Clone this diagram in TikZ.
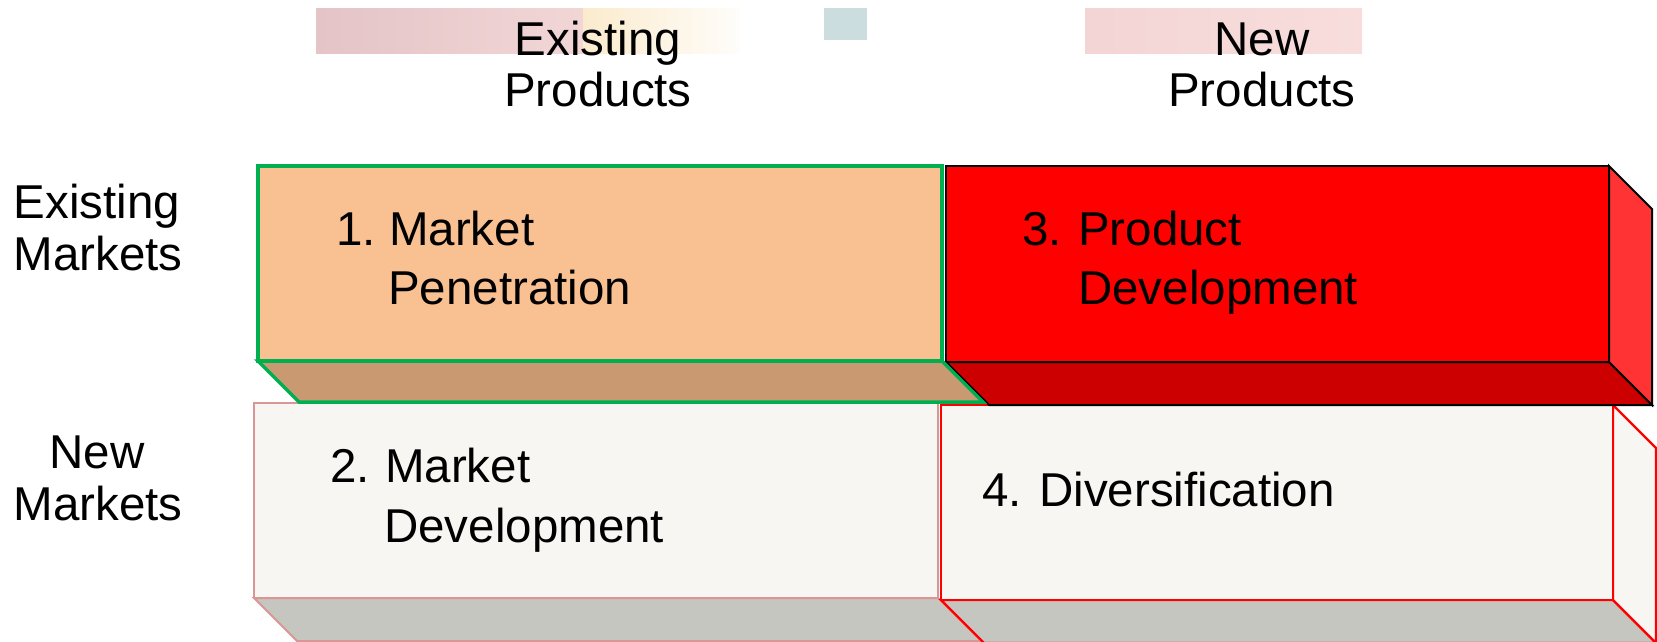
\documentclass[tikz,border=0pt]{standalone}
\usepackage{fontspec}
\setmainfont{Liberation Sans}
\definecolor{peach}{HTML}{F9C091}
\definecolor{peachdark}{HTML}{C99A72}
\definecolor{offwhite}{HTML}{F7F6F2}
\definecolor{greyface}{HTML}{C6C6C1}
\definecolor{redfront}{HTML}{FF0000}
\definecolor{redbottom}{HTML}{CC0000}
\definecolor{redside}{HTML}{FF3333}
\definecolor{greenline}{HTML}{00B050}
\definecolor{pinkline}{HTML}{DA9694}
\definecolor{patchpink}{HTML}{E4C4C7}
\definecolor{patchpinkB}{HTML}{F2D6D6}
\definecolor{patchyellow}{HTML}{FBEBCD}
\definecolor{patchteal}{HTML}{CBDDDE}
\definecolor{patchrose}{HTML}{F0CACA}
\begin{document}
\begin{tikzpicture}[x=1pt,y=-1pt,line join=miter,
  lbl/.style={font=\fontsize{47.5}{57}\selectfont,inner sep=0pt,anchor=base west},
  hdr/.style={font=\fontsize{47.5}{57}\selectfont,inner sep=0pt,anchor=base},
  boxone/.style={draw=greenline,line width=3.5pt},
  boxtwo/.style={draw=pinkline,line width=2pt},
  boxthree/.style={draw=black,line width=2pt},
  boxfour/.style={draw=redfront,line width=2.2pt}]
\useasboundingbox (0,0) rectangle (1657,641);
\clip (0,0) rectangle (1657,641);
% blurred patches at the top
\shade[left color=patchpink,right color=patchpinkB] (316,8) rectangle (583,53);
\shade[left color=patchyellow,right color=white!90!patchyellow] (583,8) rectangle (740,53);
\fill[patchteal] (824,8) rectangle (867,40);
\shade[left color=patchrose!80!white,right color=patchrose!70!pink!60!white] (1085,8) rectangle (1362,53);
% lower row: box 2
\path[boxtwo,fill=greyface] (254,598) -- (938,598) -- (981,641) -- (297,641) -- cycle;
\path[boxtwo,fill=offwhite] (254,403) rectangle (938,598);
% lower row: box 4
\path[boxfour,fill=greyface] (941,600) -- (1613,600) -- (1656,643) -- (984,643) -- cycle;
\path[boxfour,fill=offwhite] (1613,405) -- (1656,448) -- (1656,643) -- (1613,600) -- cycle;
\path[boxfour,fill=offwhite] (941,405) rectangle (1613,600);
% upper row: box 3
\path[boxthree,fill=redbottom] (946,362) -- (1609,362) -- (1652,405) -- (989,405) -- cycle;
\path[boxthree,fill=redside] (1609,166) -- (1652,209) -- (1652,405) -- (1609,362) -- cycle;
\path[boxthree,fill=redfront] (946,166) rectangle (1609,362);
% upper row: box 1
\path[boxone,fill=peachdark] (258,361) -- (942,361) -- (983,402) -- (299,402) -- cycle;
\path[boxone,fill=peach] (258,166) rectangle (942,361);
% column headers
\node[hdr] (ep1) at (598,55) {Existing};
\node[hdr] (ep2) at (598,106) {Products};
\node[hdr] (np1) at (1262,55) {New};
\node[hdr] (np2) at (1262,106) {Products};
% row headers
\node[hdr] (em1) at (97,218) {Existing};
\node[hdr] (em2) at (98,270) {Markets};
\node[hdr] (nm1) at (97,468) {New};
\node[hdr] (nm2) at (98,520) {Markets};
% box texts
\node[lbl] (b1n) at (336,245) {1.};
\node[lbl] (b1a) at (389,245) {Market};
\node[lbl] (b1b) at (388,304) {Penetration};
\node[lbl] (b3n) at (1022,245) {3.};
\node[lbl] (b3a) at (1078,245) {Product};
\node[lbl] (b3b) at (1078,304) {Development};
\node[lbl] (b2n) at (330,482) {2.};
\node[lbl] (b2a) at (385,482) {Market};
\node[lbl] (b2b) at (384,542) {Development};
\node[lbl] (b4n) at (982,506) {4.};
\node[lbl] (b4a) at (1039,506) {Diversification};
\end{tikzpicture}
\end{document}
